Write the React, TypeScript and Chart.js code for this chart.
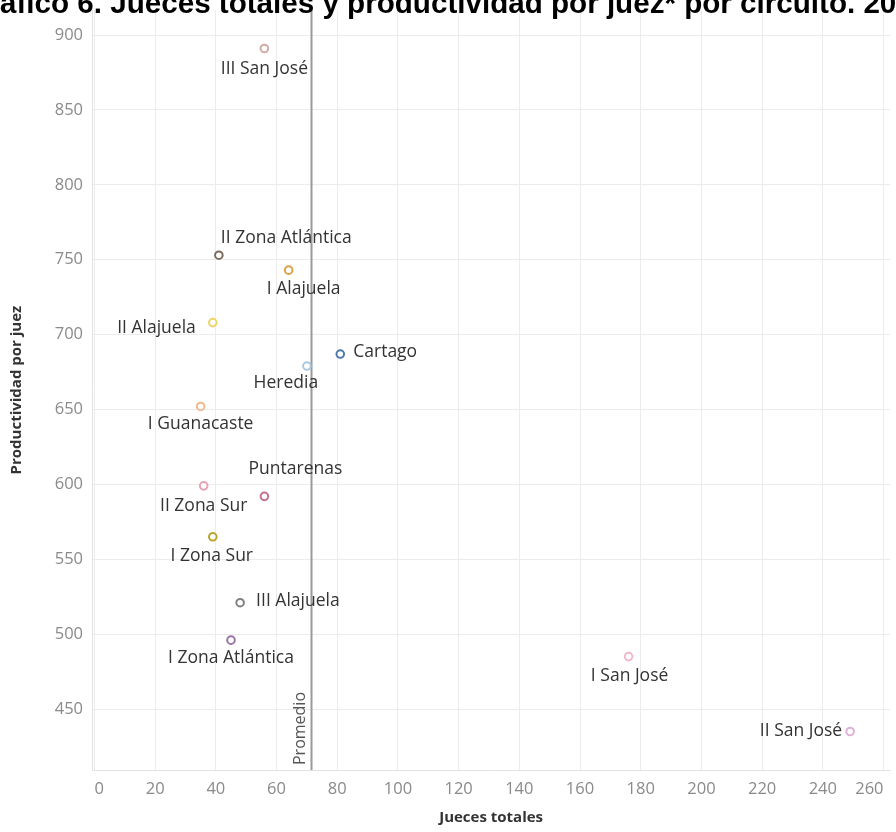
import React, { useEffect, useRef } from "react";
import { Chart, registerables } from "chart.js";

Chart.register(...registerables);

// ---- Data ----
const circuitos = [
  "III San José",
  "II Zona Atlántica",
  "I Alajuela",
  "II Alajuela",
  "Cartago",
  "Heredia",
  "I Guanacaste",
  "II Zona Sur",
  "Puntarenas",
  "I Zona Sur",
  "III Alajuela",
  "I Zona Atlántica",
  "I San José",
  "II San José",
];
const juecesTotales = [56, 41, 64, 39, 81, 70, 35, 36, 56, 39, 48, 45, 176, 249];
const productividadPorJuez = [891, 753, 743, 708, 687, 679, 652, 599, 592, 565, 521, 496, 485, 435];
const promedioJueces = 71.5;
const xTickValues = [0, 20, 40, 60, 80, 100, 120, 140, 160, 180, 200, 220, 240, 260];
const yTickValues = [450, 500, 550, 600, 650, 700, 750, 800, 850, 900];

const titleText = "Gráfico 6. Jueces totales y productividad por juez* por circuito. 20";
const xTitle = "Jueces totales";
const yTitle = "Productividad por juez";
const promedioLabel = "Promedio";

// ---- Styles ----
const pointColors = [
  "#d3aaa4",
  "#7d6b5d",
  "#dfa046",
  "#ebd46a",
  "#4f79a8",
  "#a9c8e3",
  "#f4b68e",
  "#eaa0b4",
  "#c4708e",
  "#bba32c",
  "#808080",
  "#9b72a9",
  "#f2b8c8",
  "#dfb0d6",
];

// label placement relative to the marker: [dx, dy, textAlign]
const labelPlacement: Record<string, [number, number, CanvasTextAlign]> = {
  "III San José": [0, 21, "center"],
  "II Zona Atlántica": [2, -17, "left"],
  "I Alajuela": [15, 19, "center"],
  "II Alajuela": [-17, 5, "right"],
  Cartago: [13, -2, "left"],
  Heredia: [-21, 17, "center"],
  "I Guanacaste": [0, 18, "center"],
  "II Zona Sur": [0, 20, "center"],
  Puntarenas: [31, -27, "center"],
  "I Zona Sur": [-1, 19, "center"],
  "III Alajuela": [16, -2, "left"],
  "I Zona Atlántica": [0, 18, "center"],
  "I San José": [1, 19, "center"],
  "II San José": [-8, 0, "right"],
};

const FONT = "'Open Sans', 'DejaVu Sans', sans-serif";

const labelsPlugin = {
  id: "pointLabels",
  afterDatasetsDraw(chart: any) {
    const ctx = chart.ctx;
    const meta = chart.getDatasetMeta(0);
    ctx.save();
    ctx.font = `17.5px ${FONT}`;
    ctx.fillStyle = "#333333";
    ctx.textBaseline = "middle";
    meta.data.forEach((pt: any, i: number) => {
      const name = circuitos[i];
      const [dx, dy, align] = labelPlacement[name] || [0, 18, "center"];
      ctx.textAlign = align;
      ctx.fillText(name, pt.x + dx, pt.y + dy);
    });
    ctx.restore();
  },
};

const promedioPlugin = {
  id: "promedioLine",
  beforeDatasetsDraw(chart: any) {
    const { ctx, chartArea, scales } = chart;
    const x = Math.round(scales.x.getPixelForValue(promedioJueces)) + 0.5;
    ctx.save();
    ctx.strokeStyle = "#9a9a9a";
    ctx.lineWidth = 2;
    ctx.beginPath();
    ctx.moveTo(x, chartArea.top);
    ctx.lineTo(x, chartArea.bottom);
    ctx.stroke();
    ctx.translate(x - 11, chartArea.bottom - 5);
    ctx.rotate(-Math.PI / 2);
    ctx.font = `16px ${FONT}`;
    ctx.fillStyle = "#555555";
    ctx.textAlign = "left";
    ctx.textBaseline = "middle";
    ctx.fillText(promedioLabel, 0, 0);
    ctx.restore();
  },
};

export default function App() {
  const canvasRef = useRef<HTMLCanvasElement | null>(null);

  useEffect(() => {
    if (!canvasRef.current) return;
    const points = juecesTotales.map((x, i) => ({ x, y: productividadPorJuez[i] }));
    const chart = new Chart(canvasRef.current, {
      type: "scatter",
      data: {
        datasets: [
          {
            label: "Circuitos",
            data: points,
            pointRadius: 3.8,
            pointBorderWidth: 2,
            pointBackgroundColor: "#ffffff",
            pointBorderColor: pointColors,
            pointHoverRadius: 3.8,
          },
        ],
      },
      options: {
        animation: false,
        responsive: true,
        maintainAspectRatio: false,
        layout: { padding: { top: 10, right: 0, left: 0, bottom: 0 } },
        plugins: {
          legend: { display: false },
          tooltip: { enabled: false },
          title: { display: false },
        },
        scales: {
          x: {
            type: "linear",
            min: -0.8,
            max: 262.2,
            afterBuildTicks: (scale: any) => {
              scale.ticks = xTickValues.map((v) => ({ value: v }));
            },
            afterFit: (scale: any) => {
              scale.height = 62;
              scale.paddingLeft = 0;
              scale.paddingRight = 0;
            },
            ticks: {
              align: "inner",
              autoSkip: false,
              maxRotation: 0,
              padding: 9,
              color: "#8a8a8a",
              font: { family: FONT, size: 16.5 },
            },
            grid: { color: "#ececec", drawTicks: false },
            border: { color: "#e2e2e2" },
            title: {
              display: true,
              text: xTitle,
              color: "#333333",
              font: { family: FONT, size: 15, weight: "bold" },
              padding: { top: 0, bottom: 5 },
            },
          },
          y: {
            type: "linear",
            min: 409.3,
            max: 916.7,
            afterBuildTicks: (scale: any) => {
              scale.ticks = yTickValues.map((v) => ({ value: v }));
            },
            afterFit: (scale: any) => {
              scale.width = 92;
              scale.paddingTop = 0;
              scale.paddingBottom = 0;
            },
            ticks: {
              padding: 9,
              color: "#8a8a8a",
              font: { family: FONT, size: 16.5 },
            },
            grid: { color: "#ececec", drawTicks: false },
            border: { color: "#e2e2e2" },
            title: {
              display: true,
              text: yTitle,
              color: "#333333",
              font: { family: FONT, size: 15, weight: "bold" },
              padding: { top: 8, bottom: 0 },
            },
          },
        },
      },
      plugins: [promedioPlugin, labelsPlugin],
    });
    return () => chart.destroy();
  }, []);

  return (
    <div
      style={{
        position: "absolute",
        left: 0,
        top: 0,
        width: 896,
        height: 832,
        overflow: "hidden",
        background: "#ffffff",
      }}
    >
      <canvas ref={canvasRef} />
      <div
        style={{
          position: "absolute",
          left: -34.5,
          top: -12,
          whiteSpace: "nowrap",
          font: "bold 29.6px 'Liberation Sans', Arial, sans-serif",
          lineHeight: "29.6px",
          color: "#000000",
          pointerEvents: "none",
        }}
      >
        {titleText}
      </div>
    </div>
  );
}
